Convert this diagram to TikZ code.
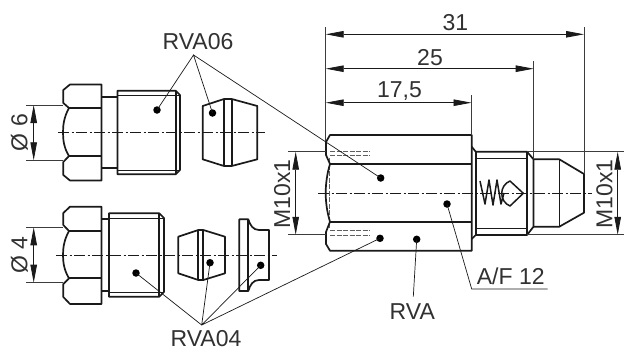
\documentclass[tikz,border=0pt]{standalone}
\usepackage{fontspec}
\setmainfont{Liberation Sans}
\usetikzlibrary{arrows.meta}
\definecolor{ink}{HTML}{1a1a1a}
\tikzset{
  thick line/.style={draw=ink,line width=1.7pt,line join=round},
  thin line/.style={draw=ink,line width=0.8pt},
  ext line/.style={draw=ink!85,line width=0.8pt},
  center line/.style={draw=ink,line width=0.7pt,dash pattern=on 11pt off 2.5pt on 2pt off 2.5pt},
  hidden line/.style={draw=ink!70,line width=0.8pt,dash pattern=on 5pt off 1.5pt},
  dim line/.style={draw=ink,line width=0.8pt,{Triangle[length=18pt,width=6.5pt]}-{Triangle[length=18pt,width=6.5pt]}},
  dotn/.style={circle,fill=black,inner sep=0pt,minimum size=7.5pt},
  lab/.style={anchor=base,text=ink!90,font=\fontsize{23}{26}\selectfont,inner sep=0pt},
  leader/.style={draw=ink,line width=0.7pt}
}
\begin{document}
\begin{tikzpicture}[x=1pt,y=-1pt]
\useasboundingbox (0,0) rectangle (624,351);
\fill[white] (0,0) rectangle (624,351);

% --- upper left fitting (RVA06)
\draw[center line] (58,132.5) -- (265,132.5);
\draw[thick line] (63.3,103) -- (63.3,90) -- (70,84.5) -- (101.5,84.5) -- (101.5,180.5) -- (70,180.5) -- (63.3,175) -- (63.3,162) -- (69,156) .. controls (64,148) and (63,140) .. (63,132.5) .. controls (63,125) and (64,117) .. (69,108) -- cycle;
\draw[thick line] (69,108) -- (101.5,108) (69,156) -- (101.5,156);
\draw[thick line] (101.5,96.7) -- (117.5,96.7) (101.5,168) -- (117.5,168);
\draw[thick line] (175.7,90.7) -- (117.5,90.7) -- (117.5,174.3) -- (175.7,174.3) -- (180,170) -- (180,95) -- cycle;
\draw[thick line] (175.7,90.7) -- (175.7,174.3);
\draw[thin line] (117.5,95.7) -- (180,95.7) (117.5,170) -- (180,170);
\draw[thick line] (202.7,106) -- (224,99) -- (231.7,99) -- (257.3,106) -- (257.3,159.3) -- (231.7,166) -- (224,166) -- (202.7,159.3) -- cycle;
\draw[thick line] (224,99) -- (224,166) (231.7,99) -- (231.7,166);

% --- lower left fitting (RVA04)
\draw[center line] (56,255) -- (276.7,255);
\draw[thick line] (63.3,225) -- (63.3,213) -- (70,206.7) -- (101.5,206.7) -- (101.5,304) -- (70,304) -- (63.3,297) -- (63.3,284) -- (69,278.3) .. controls (64,270) and (63,262) .. (63,255) .. controls (63,248) and (64,240) .. (69,231) -- cycle;
\draw[thick line] (69,231) -- (101.5,231) (69,278.3) -- (101.5,278.3);
\draw[thick line] (101.5,219.3) -- (109,219.3) (101.5,290.7) -- (109,290.7);
\draw[thick line] (159.3,213.3) -- (109,213.3) -- (109,296.7) -- (159.3,296.7) -- (164,292) -- (164,218) -- cycle;
\draw[thick line] (159.3,213.3) -- (159.3,296.7);
\draw[thin line] (109,218.3) -- (164,218.3) (109,292.3) -- (164,292.3);
\draw[thick line] (178.3,236.7) -- (198.3,230) -- (203.3,230) -- (225,236.7) -- (225,273.3) -- (203.3,280) -- (198.3,280) -- (178.3,273.3) -- cycle;
\draw[thick line] (198.3,230) -- (198.3,280) (203.3,230) -- (203.3,280);
\draw[thick line] (239.3,219.3) -- (248.3,219.3) .. controls (250,225) and (253,230) .. (259,230) -- (269,230) -- (269,280) -- (259,280) .. controls (253,280) and (250,285) .. (248.3,291) -- (239.3,291) -- cycle;
\draw[thick line] (248.3,219.3) -- (248.3,291);

% --- main body
\draw[center line] (318,193) -- (591.7,193);
\draw[hidden line] (330,151.7) -- (370,151.7) (330,155.7) -- (370,155.7) (330,230) -- (370,230) (330,235) -- (370,235);
\draw[hidden line] (329.5,158) -- (329.5,228);
\draw[thick line] (330,135) -- (471.7,135) -- (471.7,250.7) -- (330,250.7) -- (326,244) -- (326,232) -- (330,221.7) .. controls (327,212) and (325.7,202) .. (325.7,193) .. controls (325.7,184) and (327,174) .. (330,164) -- (326,155) -- (326,142) -- cycle;
\draw[thick line] (330,164) -- (471.7,164) (330,221.7) -- (471.7,221.7);
\draw[thick line] (471.7,146.7) -- (475.7,151.7) -- (527,151.7) -- (533.5,159.3) -- (533.5,226.7) -- (527,235) -- (475.7,235) -- (471.7,239);
\draw[thick line] (475.7,151.7) -- (475.7,235) (527,151.7) -- (527,235);
\draw[thin line] (475.7,158.3) -- (527,158.3) (475.7,228.3) -- (527,228.3);
\draw[thick line] (533.5,159.3) -- (559.3,159.3) -- (584,174) -- (584,212.7) -- (559.3,226.7) -- (533.5,226.7);
\draw[thin line] (559.3,159.3) -- (559.3,226.7);

% spring and valve
\draw[draw=ink,line width=1.5pt,line join=round] (480,181) -- (485,204) -- (489,180) -- (493,205) -- (497,180) -- (501,204) -- (504,193);
\draw[draw=ink,line width=1.5pt,line join=round] (510,181) .. controls (505,183) and (501.7,188) .. (501.7,193.3) .. controls (501.7,199) and (505,204) .. (510,206) -- (523.3,193.3) -- cycle;

% --- extension lines
\coordinate (e6t) at (26,105); \coordinate (e6b) at (26,160.3);
\coordinate (e4t) at (26,227.3); \coordinate (e4b) at (26,282.7);
\draw[ext line] (e6t) -- (63.3,105) (e6b) -- (63.3,160.3) (e4t) -- (63.3,227.3) (e4b) -- (63.3,282.7);
\draw[ext line] (325.7,27) -- (325.7,142) (584,27) -- (584,174) (533.7,61) -- (533.7,159.3) (471.5,95) -- (471.5,135);
\draw[ext line] (288,151.7) -- (326,151.7) (288,234.8) -- (326,234.8) (527,151.7) -- (624,151.7) (527,234.8) -- (624,234.8);

% --- dimension lines
\draw[dim line] (33.7,105) -- (33.7,160.3);
\draw[dim line] (33.7,227.3) -- (33.7,282.7);
\draw[dim line] (325.7,34.3) -- (584,34.3);
\draw[dim line] (325.7,68.7) -- (533.7,68.7);
\draw[dim line] (325.7,102.7) -- (471.5,102.7);
\draw[dim line] (295.7,151.7) -- (295.7,234.8);
\draw[dim line] (617.7,151.7) -- (617.7,234.8);

% --- labels
\node[lab] (t31) at (455.3,30.7) {31};
\node[lab] (t25) at (430,65.7) {25};
\node[lab] (t175) at (399.5,97.7) {17,5};
\node[lab,rotate=90] (tm1) at (290,194) {M10x1};
\node[lab,rotate=90] (tm2) at (612.3,194) {M10x1};
\node[lab,rotate=90] (to6) at (27.3,132.5) {Ø 6};
\node[lab,rotate=90] (to4) at (27.3,255) {Ø 4};
\node[lab] (rva06) at (198,49.3) {RVA06};
\node[lab] (rva04) at (206,346) {RVA04};
\node[lab] (rva) at (412.3,319.3) {RVA};
\node[lab,anchor=base west] (af) at (476.7,284.3) {A/F 12};

% --- leaders
\coordinate (a06) at (193.5,55);
\coordinate (a04) at (201.7,325);
\coordinate (arva) at (413.3,296.7);
\coordinate (aaf) at (471.7,289);
\coordinate (aafe) at (547.7,289);
\node[dotn] (d1) at (157,110) {};
\node[dotn] (d2) at (212.5,113) {};
\node[dotn] (d3) at (380.7,178) {};
\node[dotn] (d4) at (136,273) {};
\node[dotn] (d5) at (210,262.7) {};
\node[dotn] (d6) at (260.7,265.3) {};
\node[dotn] (d7) at (380,238.3) {};
\node[dotn] (d8) at (416.7,239.3) {};
\node[dotn] (d9) at (447,204) {};
\draw[leader] (d1.center) -- (a06) -- (d2.center) (a06) -- (d3.center);
\draw[leader] (d4.center) -- (a04) -- (d5.center) (a04) -- (d6.center) (a04) -- (d7.center);
\draw[leader] (arva) -- (d8.center);
\draw[leader] (d9.center) -- (aaf) -- (aafe);
\end{tikzpicture}
\end{document}
